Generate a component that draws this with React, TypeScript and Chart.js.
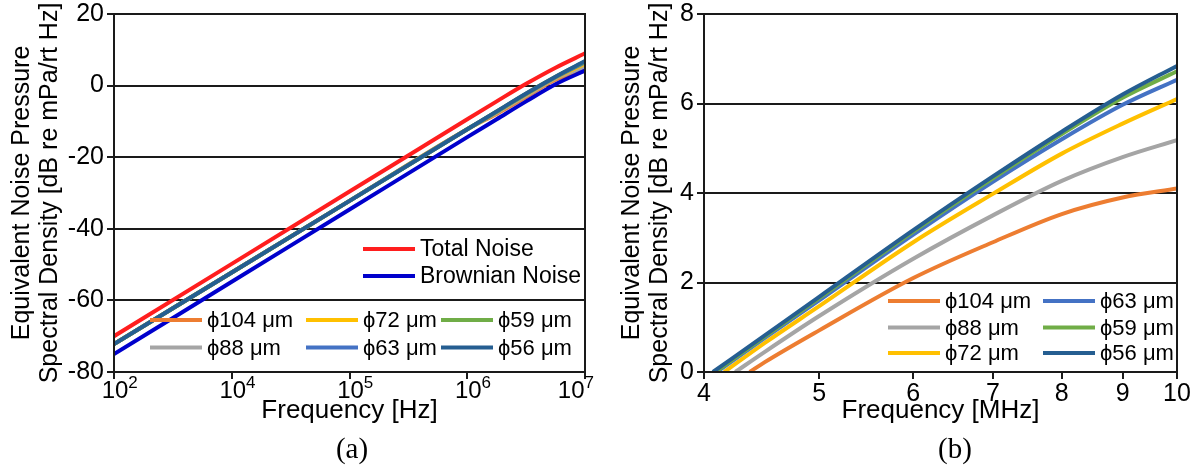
import React, { useEffect, useRef } from 'react';
import { Chart, registerables } from 'chart.js';

Chart.register(...registerables);

const FONT = "'Liberation Sans', Arial, Helvetica, sans-serif";
const SERIF = "'Liberation Serif', 'Times New Roman', Times, serif";

// ---------- Panel (a) ----------
// x positions: one unit per labelled tick (tick labels below)
const xPosA = [0, 1, 2, 3, 3.25, 3.5, 3.75, 4];
const xTickBaseA = '10';
const xTickExpA = ['2', '4', '5', '6', '7'];
const yTicksA = { min: -80, max: 20, step: 20 };

const totalNoiseA = [-70, -49.8, -29.6, -9.4, -4.4, 0.5, 5.0, 9.0];
const brownianNoiseA = [-75, -54.8, -34.6, -14.4, -9.4, -4.4, 0.4, 4.2];
const d104A = [-72.2, -52.2, -32.2, -12.2, -7.9, -3.2, 1.65, 4.1];
const d88A = [-72.2, -52.2, -32.2, -12.2, -7.6, -2.8, 2.0, 5.18];
const d72A = [-72.2, -52.2, -32.2, -12.2, -7.4, -2.5, 2.2, 6.1];
const d63A = [-72.2, -52.2, -32.2, -12.2, -7.3, -2.35, 2.35, 6.53];
const d59A = [-72.2, -52.2, -32.2, -12.2, -7.25, -2.25, 2.45, 6.72];
const d56A = [-72.2, -52.2, -32.2, -12.2, -7.2, -2.2, 2.5, 6.85];

// ---------- Panel (b) ----------
const freqB = [4.5, 5, 6, 7, 8, 9, 10]; // MHz
const xTickValuesB = [4, 5, 6, 7, 8, 9, 10];
const yTicksB = { min: 0, max: 8, step: 2 };
// frequency where each curve starts (0 dB)
const startFreqB = [4.37, 4.25, 4.16, 4.1, 4.09, 4.07]; // 104, 88, 72, 63, 59, 56
const d104B = [0.22, 0.93, 2.1, 2.9, 3.53, 3.9, 4.1];
const d88B = [0.45, 1.25, 2.53, 3.5, 4.27, 4.8, 5.18];
const d72B = [0.65, 1.47, 2.9, 3.98, 4.88, 5.55, 6.1];
const d63B = [0.76, 1.6, 3.07, 4.25, 5.2, 5.97, 6.53];
const d59B = [0.79, 1.65, 3.14, 4.33, 5.32, 6.13, 6.72];
const d56B = [0.82, 1.68, 3.17, 4.37, 5.37, 6.2, 6.84];

const seriesLabels = ['ϕ104 μm', 'ϕ88 μm', 'ϕ72 μm', 'ϕ63 μm', 'ϕ59 μm', 'ϕ56 μm'];
const seriesColors = ['#ED7D31', '#A5A5A5', '#FFC000', '#4472C4', '#70AD47', '#255E91'];
const totalLabel = 'Total Noise';
const brownLabel = 'Brownian Noise';
const totalColor = '#FF1E1E';
const brownColor = '#0000CC';

const AXIS_COLOR = '#1a1a1a';

const legendPlugin = {
  id: 'customLegend',
  afterDraw(chart: any, _args: any, opts: any) {
    const items = opts.items || [];
    const ctx = chart.ctx;
    ctx.save();
    ctx.textBaseline = 'middle';
    ctx.textAlign = 'left';
    ctx.fillStyle = '#000';
    ctx.lineCap = 'butt';
    for (const it of items) {
      const ds = chart.data.datasets[it.dataset];
      ctx.font = `${it.fontSize || opts.fontSize}px ${FONT}`;
      ctx.strokeStyle = ds.borderColor;
      ctx.lineWidth = opts.lineWidth;
      ctx.beginPath();
      ctx.moveTo(it.x, it.y);
      ctx.lineTo(it.x + opts.lineLen, it.y);
      ctx.stroke();
      ctx.fillText(ds.label, it.x + opts.lineLen + opts.gap, it.y + 1);
    }
    ctx.restore();
  },
};

const framePlugin = {
  id: 'frame',
  afterDraw(chart: any) {
    const { ctx, chartArea } = chart;
    ctx.save();
    ctx.strokeStyle = AXIS_COLOR;
    ctx.lineWidth = 2;
    ctx.strokeRect(chartArea.left, chartArea.top, chartArea.right - chartArea.left, chartArea.bottom - chartArea.top);
    ctx.restore();
  },
};

// power-of-ten tick labels with a raised exponent (panel a)
const powerTicksPlugin = {
  id: 'powerTicks',
  afterDraw(chart: any) {
    const scale = chart.scales.x;
    const ctx = chart.ctx;
    ctx.save();
    ctx.fillStyle = '#000';
    ctx.textBaseline = 'alphabetic';
    const baseFont = `24px ${FONT}`;
    const expFont = `17px ${FONT}`;
    const baseY = chart.chartArea.bottom + 26;
    const expY = baseY - 10;
    xTickExpA.forEach((exp, i) => {
      const px = scale.getPixelForValue(i);
      ctx.font = baseFont;
      const wBase = ctx.measureText(xTickBaseA).width;
      ctx.font = expFont;
      const wExp = ctx.measureText(exp).width;
      let left = px - wBase / 2 + 1;
      const maxRight = chart.width - 6;
      if (left + wBase + wExp > maxRight) left = maxRight - wBase - wExp;
      ctx.font = baseFont;
      ctx.textAlign = 'left';
      ctx.fillText(xTickBaseA, left, baseY);
      ctx.font = expFont;
      ctx.fillText(exp, left + wBase, expY);
    });
    ctx.restore();
  },
};

function yTitle(titlePadTop: number) {
  return {
    display: true,
    text: ['Equivalent Noise Pressure', 'Spectral Density [dB re mPa/rt Hz]'],
    color: '#000',
    font: { family: FONT, size: 25, lineHeight: 1.12 },
    padding: { top: titlePadTop, bottom: 0 },
  };
}

function xTitle(text: string) {
  return {
    display: true,
    text,
    color: '#000',
    font: { family: FONT, size: 26, lineHeight: 1.2 },
    padding: { top: 0, bottom: 43 },
  };
}

const gridY = { color: AXIS_COLOR, lineWidth: 2, tickLength: 7, drawTicks: true, tickColor: AXIS_COLOR, tickWidth: 2 };
const gridX = { drawOnChartArea: false, color: AXIS_COLOR, lineWidth: 2, tickLength: 7, drawTicks: true, tickColor: AXIS_COLOR, tickWidth: 2 };
const border = { display: true, color: AXIS_COLOR, width: 2 };
const tickFont = { family: FONT, size: 25 };

function lineDs(label: string, color: string, data: any[], order: number) {
  return {
    label,
    data,
    borderColor: color,
    backgroundColor: color,
    borderWidth: 4,
    pointRadius: 0,
    fill: false,
    cubicInterpolationMode: 'monotone',
    order,
  };
}

function configA(): any {
  const pts = (vals: number[]) => xPosA.map((x, i) => ({ x, y: vals[i] }));
  const cluster = [d104A, d88A, d72A, d63A, d59A, d56A];
  const datasets: any[] = [
    lineDs(totalLabel, totalColor, pts(totalNoiseA), 1),
    lineDs(brownLabel, brownColor, pts(brownianNoiseA), 2),
  ];
  cluster.forEach((vals, i) => datasets.push(lineDs(seriesLabels[i], seriesColors[i], pts(vals), 8 - i)));
  return {
    type: 'line',
    data: { datasets },
    plugins: [legendPlugin, framePlugin, powerTicksPlugin],
    options: {
      animation: false,
      responsive: false,
      layout: { padding: { top: 14, right: 15, bottom: 0, left: 0 } },
      plugins: {
        legend: { display: false },
        tooltip: { enabled: false },
        customLegend: {
          fontSize: 22,
          lineWidth: 4,
          lineLen: 52,
          gap: 5,
          items: [
            { dataset: 0, x: 363, y: 249, fontSize: 23 },
            { dataset: 1, x: 363, y: 276, fontSize: 23 },
            { dataset: 2, x: 150, y: 320 },
            { dataset: 3, x: 150, y: 347.5 },
            { dataset: 4, x: 306, y: 320 },
            { dataset: 5, x: 306, y: 347.5 },
            { dataset: 6, x: 441, y: 320 },
            { dataset: 7, x: 441, y: 347.5 },
          ],
        },
      },
      scales: {
        x: {
          type: 'linear',
          min: 0,
          max: xTickExpA.length - 1,
          grid: gridX,
          border,
          ticks: { display: false },
          afterBuildTicks: (s: any) => {
            s.ticks = xTickExpA.map((_l, i) => ({ value: i }));
          },
          afterFit: (s: any) => {
            s.height = 97;
            s.paddingLeft = 0;
            s.paddingRight = 0;
          },
          title: xTitle('Frequency [Hz]'),
        },
        y: {
          type: 'linear',
          min: yTicksA.min,
          max: yTicksA.max,
          grid: gridY,
          border,
          ticks: { stepSize: yTicksA.step, font: tickFont, color: '#000', padding: 3 },
          afterFit: (s: any) => {
            s.width = 114;
            s.paddingTop = 0;
            s.paddingBottom = 0;
          },
          title: yTitle(8),
        },
      },
    },
  };
}

function configB(): any {
  const cluster = [d104B, d88B, d72B, d63B, d59B, d56B];
  const datasets: any[] = cluster.map((vals, i) =>
    lineDs(
      seriesLabels[i],
      seriesColors[i],
      [{ x: startFreqB[i], y: 0 }, ...freqB.map((f, j) => ({ x: f, y: vals[j] }))],
      6 - i
    )
  );
  return {
    type: 'line',
    data: { datasets },
    plugins: [legendPlugin, framePlugin],
    options: {
      animation: false,
      responsive: false,
      layout: { padding: { top: 14, right: 16, bottom: 0, left: 0 } },
      plugins: {
        legend: { display: false },
        tooltip: { enabled: false },
        customLegend: {
          fontSize: 22,
          lineWidth: 4,
          lineLen: 52,
          gap: 5,
          items: [
            { dataset: 0, x: 288, y: 301 },
            { dataset: 1, x: 288, y: 327.5 },
            { dataset: 2, x: 288, y: 353 },
            { dataset: 3, x: 443, y: 301 },
            { dataset: 4, x: 443, y: 327.5 },
            { dataset: 5, x: 443, y: 353 },
          ],
        },
      },
      scales: {
        x: {
          type: 'logarithmic',
          min: xTickValuesB[0],
          max: xTickValuesB[xTickValuesB.length - 1],
          grid: gridX,
          border,
          ticks: {
            font: tickFont,
            color: '#000',
            padding: 0,
            maxRotation: 0,
            autoSkip: false,
            callback: (v: any) => String(v),
          },
          afterBuildTicks: (s: any) => {
            s.ticks = xTickValuesB.map((v) => ({ value: v }));
          },
          afterFit: (s: any) => {
            s.height = 97;
            s.paddingLeft = 0;
            s.paddingRight = 0;
          },
          title: xTitle('Frequency [MHz]'),
        },
        y: {
          type: 'linear',
          min: yTicksB.min,
          max: yTicksB.max,
          grid: gridY,
          border,
          ticks: { stepSize: yTicksB.step, font: tickFont, color: '#000', padding: 3 },
          afterFit: (s: any) => {
            s.width = 104;
            s.paddingTop = 0;
            s.paddingBottom = 0;
          },
          title: yTitle(18),
        },
      },
    },
  };
}

function ChartCanvas({ makeConfig, left, width, height }: any) {
  const ref = useRef<HTMLCanvasElement | null>(null);
  useEffect(() => {
    if (!ref.current) return;
    const chart = new Chart(ref.current, makeConfig());
    return () => chart.destroy();
  }, [makeConfig]);
  return (
    <canvas
      ref={ref}
      width={width}
      height={height}
      style={{ position: 'absolute', left, top: 0, width, height }}
    />
  );
}

const captionStyle: any = {
  position: 'absolute',
  top: 448,
  transform: 'translate(-50%, -50%)',
  fontFamily: SERIF,
  fontSize: 29,
  color: '#000',
  lineHeight: 1,
  whiteSpace: 'nowrap',
};

export default function App() {
  return (
    <div style={{ position: 'fixed', left: 0, top: 0, width: 1193, height: 469, background: '#fff', overflow: 'hidden' }}>
      <ChartCanvas makeConfig={configA} left={0} width={600} height={469} />
      <ChartCanvas makeConfig={configB} left={600} width={593} height={469} />
      <div style={{ ...captionStyle, left: 352 }}>(a)</div>
      <div style={{ ...captionStyle, left: 955 }}>(b)</div>
    </div>
  );
}
